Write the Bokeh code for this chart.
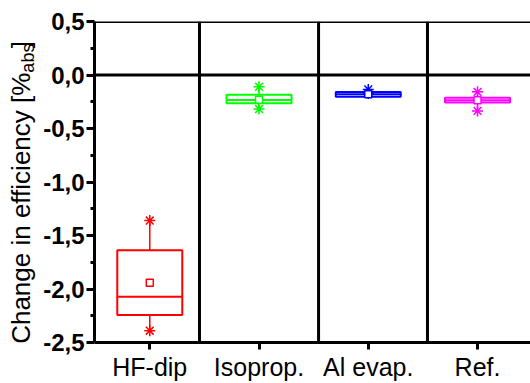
import math
from bokeh.plotting import figure
from bokeh.layouts import row
from bokeh.models import Range1d, FixedTicker, Span, ColumnDataSource
from bokeh.core.properties import value
from bokeh.embed import file_html
from bokeh.resources import INLINE

categories = ["HF-dip", "Isoprop.", "Al evap.", "Ref."]
colors = ["#ff0000", "#00ff00", "#0000ff", "#ff00ff"]
whisker_max = [-1.36, -0.11, -0.135, -0.157]
q3 = [-1.638, -0.185, -0.160, -0.213]
median = [-2.072, -0.234, -0.181, -0.235]
q1 = [-2.244, -0.265, -0.204, -0.256]
whisker_min = [-2.39, -0.318, -0.172, -0.336]
means = [-1.941, -0.232, -0.180, -0.235]
separators = [1.455, 2.545, 3.542]
y_ticks = [0.5, 0.0, -0.5, -1.0, -1.5, -2.0, -2.5]
y_tick_labels = ["0,5", "0,0", "-0,5", "-1,0", "-1,5", "-2,0", "-2,5"]
y_minor = [0.25, -0.25, -0.75, -1.25, -1.75, -2.25]

xs = [i + 1 for i in range(len(categories))]
bw = 0.595
H = 383
LW = 38

p = figure(width=530 - LW, height=H, output_backend="svg", toolbar_location=None,
           x_range=Range1d(0.494, 4.485), y_range=Range1d(-2.5, 0.5),
           min_border_left=94 - LW, min_border_right=0, min_border_top=21, min_border_bottom=39)
p.outline_line_color = None
p.grid.visible = False

ya = p.yaxis[0]
ya.ticker = FixedTicker(ticks=y_ticks, minor_ticks=y_minor)
ya.major_label_overrides = {t: l for t, l in zip(y_ticks, y_tick_labels)}
ya.axis_line_width = 3
ya.major_tick_line_width = 3
ya.minor_tick_line_width = 3
ya.major_tick_out = 8
ya.major_tick_in = 0
ya.minor_tick_out = 4
ya.minor_tick_in = 0
ya.major_label_text_font = "Liberation Sans"
ya.major_label_text_font_style = "bold"
ya.major_label_text_font_size = "24px"
ya.major_label_text_color = "black"
ya.major_label_standoff = 2

xa = p.xaxis[0]
xa.ticker = FixedTicker(ticks=xs, minor_ticks=[])
xa.major_label_overrides = {x: c for x, c in zip(xs, categories)}
xa.axis_line_width = 3
xa.major_tick_line_width = 3
xa.major_tick_out = 7
xa.major_tick_in = 0
xa.major_label_text_font = "Liberation Sans"
xa.major_label_text_font_size = "25px"
xa.major_label_text_color = "black"
xa.major_label_standoff = 3

p.add_layout(Span(location=0.5, dimension="width", line_color="black", line_width=3))
p.add_layout(Span(location=0.0, dimension="width", line_color="black", line_width=3))
for s in separators:
    p.add_layout(Span(location=s, dimension="height", line_color="black", line_width=3))

src = ColumnDataSource(dict(x=xs, left=[x - bw / 2 for x in xs], right=[x + bw / 2 for x in xs],
                            q1=q1, q3=q3, med=median, wmax=whisker_max, wmin=whisker_min,
                            mean=means, color=colors))

p.segment(x0="x", y0="q3", x1="x", y1="wmax", source=src, line_color="color", line_width=1.5)
p.segment(x0="x", y0="q1", x1="x", y1="wmin", source=src, line_color="color", line_width=1.5)
p.quad(left="left", right="right", top="q3", bottom="q1", source=src,
       fill_color=None, line_color="color", line_width=2)
p.segment(x0="left", y0="med", x1="right", y1="med", source=src, line_color="color", line_width=2)
p.scatter(x="x", y="wmax", source=src, marker="asterisk", size=11, line_color="color", line_width=1.5)
p.scatter(x="x", y="wmin", source=src, marker="asterisk", size=11, line_color="color", line_width=1.5)
p.scatter(x="x", y="mean", source=src, marker="square", size=7, line_color="color",
          fill_color="white", line_width=1.5)

# left strip carrying the y-axis title (with subscript), in pixel coordinates
q = figure(width=LW, height=H, output_backend="svg", toolbar_location=None,
           x_range=Range1d(0, LW), y_range=Range1d(0, H),
           min_border_left=0, min_border_right=0, min_border_top=0, min_border_bottom=0)
q.axis.visible = False
q.grid.visible = False
q.outline_line_color = None
mx = 20
jy = H - 61
q.text(x=[mx], y=[jy], text=["Change in efficiency [%"], angle=math.pi / 2,
       text_align="right", text_baseline="middle",
       text_font=value("Liberation Sans"), text_font_size="26px", text_color="black")
q.text(x=[mx + 7], y=[jy], text=["abs"], angle=math.pi / 2,
       text_align="left", text_baseline="middle",
       text_font=value("Liberation Sans"), text_font_size="18px", text_color="black")
q.text(x=[mx], y=[H - 32], text=["]"], angle=math.pi / 2,
       text_align="left", text_baseline="middle",
       text_font=value("Liberation Sans"), text_font_size="26px", text_color="black")

layout = row(q, p, spacing=0)
open("out.html", "w").write(file_html(layout, INLINE))
